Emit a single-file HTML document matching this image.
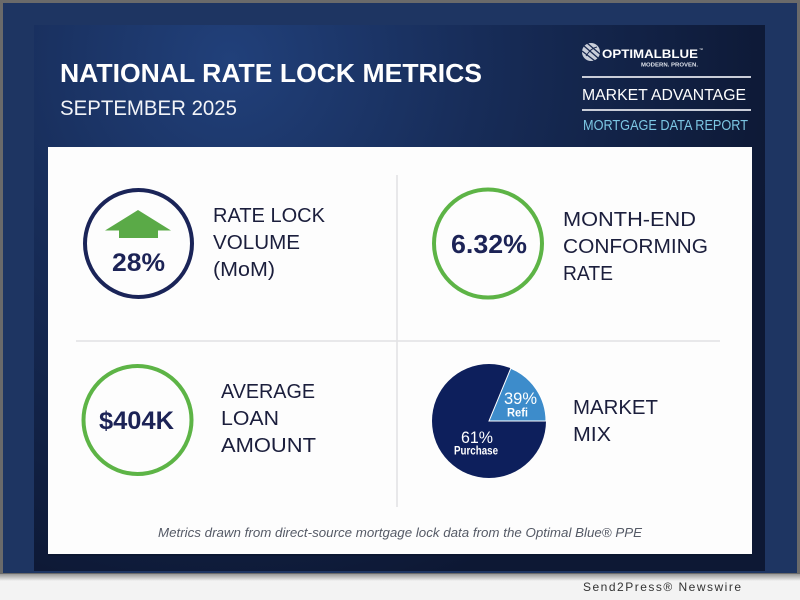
<!DOCTYPE html>
<html>
<head>
<meta charset="utf-8">
<style>
  html,body{margin:0;padding:0;background:#f3f3f3;}
  svg{display:block;}
  text{font-family:"Liberation Sans",sans-serif;}
</style>
</head>
<body>
<svg width="800" height="600" viewBox="0 0 800 600" xmlns="http://www.w3.org/2000/svg">
  <defs>
    <radialGradient id="hdr" cx="230" cy="60" r="560" gradientUnits="userSpaceOnUse">
      <stop offset="0" stop-color="#21407a"/>
      <stop offset="0.45" stop-color="#172c58"/>
      <stop offset="1" stop-color="#0d1834"/>
    </radialGradient>
    <linearGradient id="shadow" x1="0" y1="0" x2="0" y2="1">
      <stop offset="0" stop-color="#8a8a8a"/>
      <stop offset="1" stop-color="#f3f3f3"/>
    </linearGradient>
  </defs>

  <!-- page background / frame -->
  <rect x="0" y="0" width="800" height="600" fill="#f3f3f3"/>
  <rect x="0" y="573" width="800" height="8" fill="url(#shadow)"/>
  <rect x="0" y="0" width="800" height="574" fill="#6a6a6a"/>
  <rect x="3" y="3" width="794" height="570" fill="#1e3562"/>
  <rect x="34" y="25" width="731" height="546" fill="url(#hdr)"/>

  <!-- header text -->
  <text x="60" y="82" font-size="26" font-weight="bold" fill="#ffffff" textLength="422" lengthAdjust="spacingAndGlyphs">NATIONAL RATE LOCK METRICS</text>
  <text x="60" y="115" font-size="21" fill="#f2f4f8" textLength="177" lengthAdjust="spacingAndGlyphs">SEPTEMBER 2025</text>

  <!-- logo -->
  <g>
    <circle cx="591" cy="52" r="9" fill="#c9ced9"/>
    <path d="M584 46 L598 58 M582 51 L595 61 M587 43 L600 54" stroke="#1a2a50" stroke-width="1.3" fill="none"/>
    <path d="M586 56 Q591 48 597 47" stroke="#1a2a50" stroke-width="1" fill="none"/>
  </g>
  <text x="602" y="58" font-size="12" font-weight="bold" fill="#ffffff" textLength="96" lengthAdjust="spacingAndGlyphs">OPTIMALBLUE</text>
  <text x="699" y="51" font-size="4" fill="#ffffff">™</text>
  <text x="641" y="66.5" font-size="5.5" font-weight="bold" fill="#e0e4ec" textLength="57" lengthAdjust="spacingAndGlyphs">MODERN. PROVEN.</text>
  <line x1="582" y1="77" x2="751" y2="77" stroke="#c9cdd8" stroke-width="2"/>
  <text x="582" y="100" font-size="16" fill="#ffffff" textLength="164" lengthAdjust="spacingAndGlyphs">MARKET ADVANTAGE</text>
  <line x1="582" y1="110" x2="751" y2="110" stroke="#c9cdd8" stroke-width="2"/>
  <text x="583" y="130" font-size="15" fill="#7cc6e3" textLength="165" lengthAdjust="spacingAndGlyphs">MORTGAGE DATA REPORT</text>

  <!-- card -->
  <rect x="48" y="149" width="704" height="407" fill="#0a1329" opacity="0.5"/>
  <rect x="48" y="147" width="704" height="407" fill="#fdfdfd"/>
  <line x1="397" y1="175" x2="397" y2="507" stroke="#e2e2e4" stroke-width="1.5"/>
  <line x1="76" y1="341" x2="720" y2="341" stroke="#e2e2e4" stroke-width="1.5"/>

  <!-- Q1 -->
  <circle cx="138.5" cy="243.5" r="53.5" fill="none" stroke="#1a2458" stroke-width="4"/>
  <polygon points="138,210 171,230.5 158,230.5 158,238 119,238 119,230.5 105,230.5" fill="#5aaa47"/>
  <text x="112" y="271" font-size="25" font-weight="bold" fill="#1c2356" textLength="53" lengthAdjust="spacingAndGlyphs">28%</text>
  <text x="213" y="222" font-size="20" fill="#1b1e3c" textLength="112" lengthAdjust="spacingAndGlyphs">RATE LOCK</text>
  <text x="213" y="249" font-size="20" fill="#1b1e3c" textLength="87" lengthAdjust="spacingAndGlyphs">VOLUME</text>
  <text x="213" y="276" font-size="20" fill="#1b1e3c" textLength="62" lengthAdjust="spacingAndGlyphs">(MoM)</text>

  <!-- Q2 -->
  <circle cx="488" cy="243.5" r="54" fill="none" stroke="#5db446" stroke-width="4"/>
  <text x="451" y="253" font-size="26" font-weight="bold" fill="#1c2356" textLength="76" lengthAdjust="spacingAndGlyphs">6.32%</text>
  <text x="563" y="226" font-size="20" fill="#1b1e3c" textLength="133" lengthAdjust="spacingAndGlyphs">MONTH-END</text>
  <text x="563" y="253" font-size="20" fill="#1b1e3c" textLength="145" lengthAdjust="spacingAndGlyphs">CONFORMING</text>
  <text x="563" y="280" font-size="20" fill="#1b1e3c" textLength="50" lengthAdjust="spacingAndGlyphs">RATE</text>

  <!-- Q3 -->
  <circle cx="137.5" cy="420" r="54" fill="none" stroke="#5db446" stroke-width="4"/>
  <text x="99" y="429" font-size="25" font-weight="bold" fill="#1c2356" textLength="75" lengthAdjust="spacingAndGlyphs">$404K</text>
  <text x="221" y="398" font-size="20" fill="#1b1e3c" textLength="94" lengthAdjust="spacingAndGlyphs">AVERAGE</text>
  <text x="221" y="425" font-size="20" fill="#1b1e3c" textLength="58" lengthAdjust="spacingAndGlyphs">LOAN</text>
  <text x="221" y="452" font-size="20" fill="#1b1e3c" textLength="95" lengthAdjust="spacingAndGlyphs">AMOUNT</text>

  <!-- Q4 pie -->
  <circle cx="489" cy="421" r="57" fill="#0d1f5c"/>
  <path d="M489 421 L546 421 A57 57 0 0 0 510.8 368.3 Z" fill="#3d8ccb" stroke="#ffffff" stroke-width="1"/>
  <text x="504" y="404" font-size="17" fill="#ffffff" textLength="33" lengthAdjust="spacingAndGlyphs">39%</text>
  <text x="507" y="416.5" font-size="11.5" font-weight="bold" fill="#ffffff" textLength="21" lengthAdjust="spacingAndGlyphs">Refi</text>
  <text x="461" y="443" font-size="17" fill="#ffffff" textLength="32" lengthAdjust="spacingAndGlyphs">61%</text>
  <text x="454" y="454.5" font-size="11.5" font-weight="bold" fill="#ffffff" textLength="44" lengthAdjust="spacingAndGlyphs">Purchase</text>
  <text x="573" y="414" font-size="20" fill="#1b1e3c" textLength="85" lengthAdjust="spacingAndGlyphs">MARKET</text>
  <text x="573" y="441" font-size="20" fill="#1b1e3c" textLength="38" lengthAdjust="spacingAndGlyphs">MIX</text>

  <!-- footer note -->
  <text x="158" y="537" font-size="12.5" font-style="italic" fill="#555a66" textLength="484" lengthAdjust="spacingAndGlyphs">Metrics drawn from direct-source mortgage lock data from the Optimal Blue® PPE</text>

  <!-- newswire -->
  <text x="583" y="591" font-size="12" fill="#333333" textLength="158" lengthAdjust="spacing">Send2Press® Newswire</text>
</svg>
</body>
</html>
